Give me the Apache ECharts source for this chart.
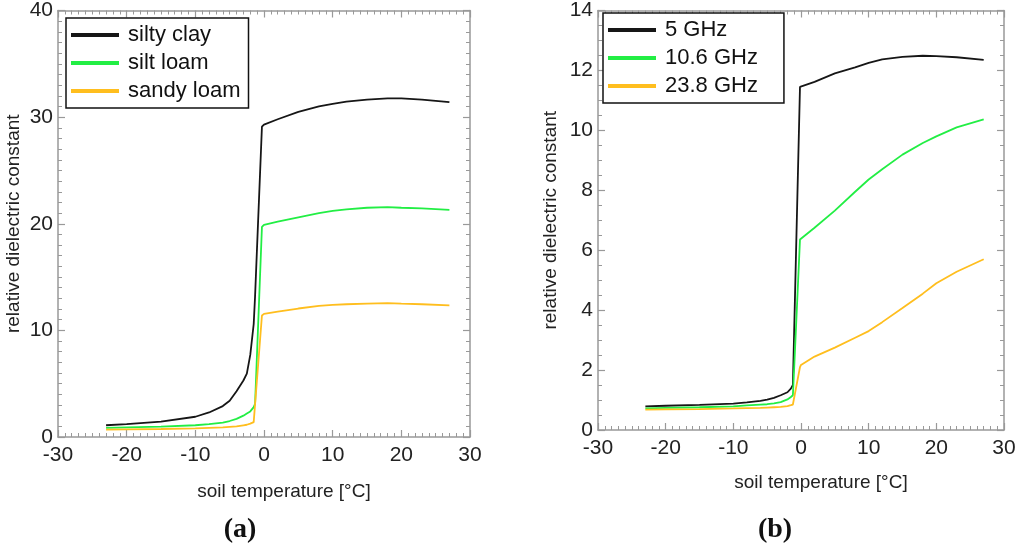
<!DOCTYPE html>
<html><head><meta charset="utf-8">
<script src="https://cdn.jsdelivr.net/npm/echarts@6/dist/echarts.min.js"></script>
<style>html,body{margin:0;padding:0;background:#fff}#c{width:1024px;height:555px}</style>
</head><body><div id="c"></div>
<script>
// Panel (a): soil types
const tempA = [-23,-20,-15,-10,-8,-6,-5,-4,-3,-2.5,-2,-1.5,-1.3,-0.3,0,2,5,8,10,12,15,18,20,23,27];
const siltyClay = [1.1,1.2,1.45,1.9,2.3,2.9,3.4,4.3,5.3,5.95,7.7,10.6,13.2,29.1,29.3,29.8,30.5,31.0,31.25,31.45,31.65,31.75,31.75,31.65,31.4];
const siltLoam  = [0.85,0.9,0.97,1.1,1.2,1.35,1.5,1.7,2.0,2.2,2.4,2.8,3.1,19.7,19.9,20.2,20.6,21.0,21.2,21.35,21.5,21.55,21.5,21.45,21.3];
const sandyLoam = [0.7,0.72,0.75,0.8,0.85,0.9,0.95,1.0,1.1,1.15,1.25,1.4,1.5,11.4,11.55,11.75,12.05,12.3,12.4,12.45,12.5,12.55,12.5,12.45,12.35];
const namesA = ['silty clay','silt loam','sandy loam'];

// Panel (b): frequencies
const tempB = [-23,-20,-15,-10,-8,-6,-5,-4,-3,-2,-1.5,-1.2,-1.0,-0.15,0,2,5,8,10,12,15,18,20,23,27];
const ghz5    = [0.79,0.81,0.84,0.88,0.92,0.97,1.01,1.07,1.16,1.26,1.38,1.5,3.4,11.45,11.48,11.62,11.9,12.1,12.25,12.37,12.45,12.49,12.48,12.44,12.35];
const ghz10_6 = [0.72,0.74,0.76,0.79,0.82,0.85,0.86,0.89,0.93,1.02,1.1,1.16,2.1,6.36,6.42,6.75,7.32,7.95,8.36,8.7,9.19,9.58,9.8,10.1,10.37];
const ghz23_8 = [0.68,0.69,0.7,0.72,0.73,0.74,0.75,0.76,0.77,0.8,0.83,0.85,0.87,2.1,2.17,2.45,2.75,3.08,3.3,3.6,4.07,4.55,4.9,5.28,5.7];
const namesB = ['5 GHz','10.6 GHz','23.8 GHz'];

const xTicks = {min:-30, max:30, interval:10};
const yTicksA = {min:0, max:40, interval:10, minorSplit:10};
const yTicksB = {min:0, max:14, interval:2, minorSplit:4};

const colors = ['#161616','#22ee44','#ffbe1e'];
const axisGray = '#999';
const labelFont = {fontSize:21, color:'#222', fontFamily:'"Liberation Sans", Arial, sans-serif'};
const titleFont = {fontSize:19, color:'#222', fontFamily:'"Liberation Sans", Arial, sans-serif'};

function pairs(xs, ys){ return xs.map((x,i)=>[x, ys[i]]); }

function xAx(grid, pos, showLabel, name, gap){
  return {
    type:'value', gridIndex:grid, position:pos, min:xTicks.min, max:xTicks.max, interval:xTicks.interval,
    axisLine:{show:true, onZero:false, lineStyle:{color:axisGray, width:1.5}},
    axisTick:{show:true, inside:true, length:7, lineStyle:{color:axisGray, width:1.2}},
    minorTick:{show:true, splitNumber:10, length:4, lineStyle:{color:axisGray, width:1}},
    splitLine:{show:false},
    axisLabel:Object.assign({show:showLabel, margin:8}, labelFont),
    name: showLabel ? name : '', nameLocation:'middle', nameGap:gap,
    nameTextStyle:Object.assign({padding:[0,0,0,40]}, titleFont)
  };
}
function yAx(grid, pos, t, showLabel, name, gap){
  return {
    type:'value', gridIndex:grid, position:pos, min:t.min, max:t.max, interval:t.interval,
    axisLine:{show:true, onZero:false, lineStyle:{color:axisGray, width:1.5}},
    axisTick:{show:true, inside:true, length:7, lineStyle:{color:axisGray, width:1.2}},
    minorTick:{show:true, splitNumber:t.minorSplit, length:4, lineStyle:{color:axisGray, width:1}},
    splitLine:{show:false},
    axisLabel:Object.assign({show:showLabel, margin:5}, labelFont),
    name: showLabel ? name : '', nameLocation:'middle', nameGap:gap,
    nameTextStyle:titleFont
  };
}

function legendCfg(names, left, top, padRight){
  return {
    data:names, orient:'vertical', left:left, top:top,
    backgroundColor:'#fff', borderColor:'#111', borderWidth:1.5, borderRadius:0,
    padding:[6,padRight,6,5], itemGap:6, itemWidth:48, itemHeight:4, icon:'rect',
    textStyle:{fontSize:22, color:'#111', fontFamily:'"Liberation Sans", Arial, sans-serif', padding:[0,0,0,4], lineHeight:22}
  };
}

function ser(name, xs, ys, idx, ci){
  return {name:name, type:'line', xAxisIndex:idx, yAxisIndex:idx, data:pairs(xs, ys),
    showSymbol:false, symbol:'none', lineStyle:{width:1.8, color:colors[ci]}, itemStyle:{color:colors[ci]}, z:3};
}

const chart = echarts.init(document.getElementById('c'), null, {renderer:'canvas'});
chart.setOption({
  animation:false,
  backgroundColor:'#fff',
  grid:[
    {left:58, top:10, width:412, height:427},
    {left:598, top:6.5, width:406, height:423.5}
  ],
  xAxis:[
    xAx(0,'bottom',true,'soil temperature [°C]',45),
    xAx(1,'bottom',true,'soil temperature [°C]',43),
    xAx(0,'top',false,'',0),
    xAx(1,'top',false,'',0)
  ],
  yAxis:[
    yAx(0,'left',yTicksA,true,'relative dielectric constant',35),
    yAx(1,'left',yTicksB,true,'relative dielectric constant',38),
    yAx(0,'right',yTicksA,false,'',0),
    yAx(1,'right',yTicksB,false,'',0)
  ],
  legend:[
    legendCfg(namesA, 66, 18, 8),
    legendCfg(namesB, 603, 13, 26)
  ],
  series:[
    ser(namesA[0], tempA, siltyClay, 0, 0),
    ser(namesA[1], tempA, siltLoam, 0, 1),
    ser(namesA[2], tempA, sandyLoam, 0, 2),
    ser(namesB[0], tempB, ghz5, 1, 0),
    ser(namesB[1], tempB, ghz10_6, 1, 1),
    ser(namesB[2], tempB, ghz23_8, 1, 2)
  ],
  graphic:[
    {type:'text', x:240, y:530, style:{text:'(a)', align:'center', verticalAlign:'middle', font:'bold 28px "Liberation Serif", "Times New Roman", serif', fill:'#111'}},
    {type:'text', x:775, y:530, style:{text:'(b)', align:'center', verticalAlign:'middle', font:'bold 28px "Liberation Serif", "Times New Roman", serif', fill:'#111'}}
  ]
});
</script></body></html>
